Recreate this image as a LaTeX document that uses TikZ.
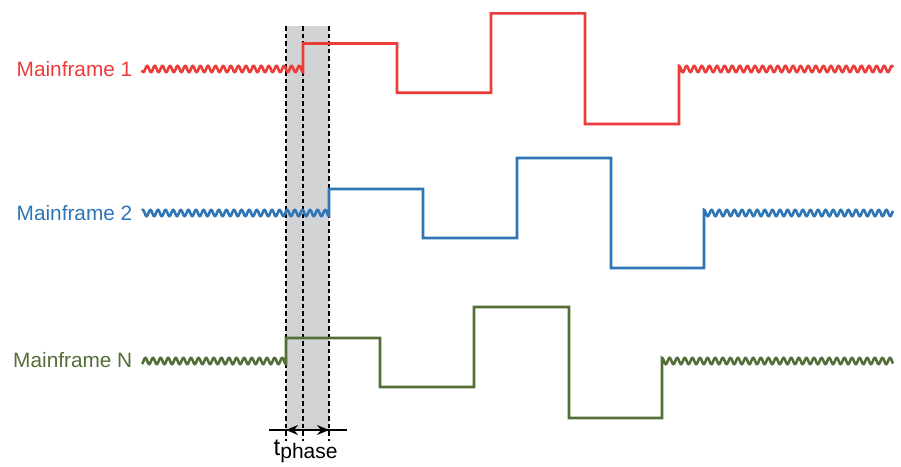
\documentclass[tikz,border=0pt]{standalone}
\usepackage{fontspec}
\setmainfont{Liberation Sans}
\usetikzlibrary{arrows.meta}
\definecolor{mfred}{RGB}{237,59,58}
\definecolor{mfblue}{RGB}{46,117,182}
\definecolor{mfgreen}{RGB}{84,110,56}
\definecolor{mfgrey}{RGB}{210,211,213}
\tikzset{
  sig/.style={line width=2.6pt, line join=miter},
  lbl/.style={anchor=base east, inner sep=0pt, font=\fontsize{20.8}{25}\selectfont},
  guide/.style={black, line width=1.8pt, dash pattern=on 4.5pt off 3pt},
}
\begin{document}
\begin{tikzpicture}[x=1pt,y=-1pt]
\useasboundingbox (0,0) rectangle (901,466);
\def\A{3.1}
\def\P{7.6}
% shaded phase window
\fill[mfgrey] (286,26) rectangle (329,430);
% guide lines
\draw[guide] (286,26) -- (286,441);
\draw[guide] (303,26) -- (303,441);
\draw[guide] (329,26) -- (329,441);
% Mainframe 1
\node[lbl, text=mfred] (l1) at (132.5,76) {Mainframe 1};
\draw[sig, mfred] plot[domain=142:303, samples=400] (\x,{69+\A*cos((303-\x)/\P*360)})
  -- (303,43.5) -- (397,43.5) -- (397,92.7) -- (491,92.7) -- (491,13.3)
  -- (585,13.3) -- (585,124) -- (679,124)
  -- plot[domain=679:893, samples=500] (\x,{69-\A*cos((\x-679)/\P*360)});
% Mainframe 2
\node[lbl, text=mfblue] (l2) at (132.5,220) {Mainframe 2};
\draw[sig, mfblue] plot[domain=142:329, samples=450] (\x,{213+\A*cos((329-\x)/\P*360)})
  -- (329,189) -- (423,189) -- (423,238) -- (517,238) -- (517,158)
  -- (611,158) -- (611,268) -- (704,268)
  -- plot[domain=704:893, samples=450] (\x,{213-\A*cos((\x-704)/\P*360)});
% Mainframe N
\node[lbl, text=mfgreen] (l3) at (132.5,367) {Mainframe N};
\draw[sig, mfgreen] plot[domain=142:286, samples=350] (\x,{361+\A*cos((286-\x)/\P*360)})
  -- (286,338) -- (380,338) -- (380,387) -- (474,387) -- (474,307)
  -- (569,307) -- (569,418) -- (662,418)
  -- plot[domain=662:893, samples=550] (\x,{361-\A*cos((\x-662)/\P*360)});
% t_phase dimension
\coordinate (dl) at (269,430);
\coordinate (dr) at (347,430);
\coordinate (al) at (286,430);
\coordinate (ar) at (329,430);
\draw[black, line width=1.2pt] (dl) -- (dr);
\draw[black, line width=1.8pt, {Stealth[length=12pt,width=10pt]}-{Stealth[length=12pt,width=10pt]}] (al) -- (ar);
\node[anchor=base west, inner sep=0pt] (tp) at (273.5,455.7)
  {\fontsize{24}{28}\selectfont t\raisebox{-2.5pt}{\fontsize{21}{25}\selectfont phase}};
\end{tikzpicture}
\end{document}
